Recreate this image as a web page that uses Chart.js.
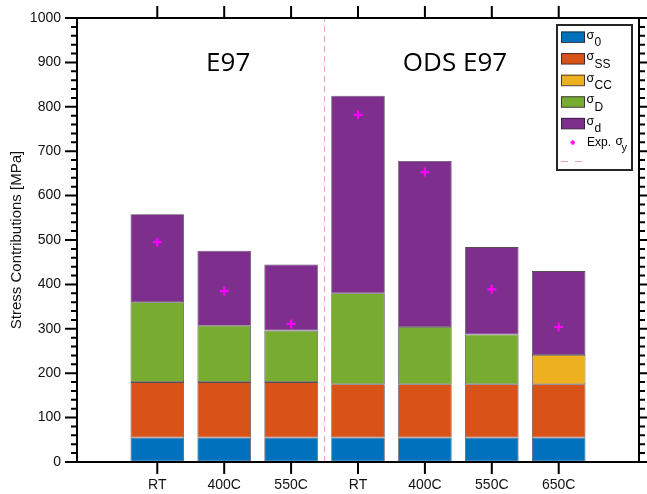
<!DOCTYPE html>
<html>
<head>
<meta charset="utf-8">
<script src="https://cdn.jsdelivr.net/npm/chart.js@4/dist/chart.umd.min.js"></script>
<style>
  html, body { margin: 0; padding: 0; background: #ffffff; }
  #c { display: block; }
</style>
</head>
<body>
<canvas id="c" width="647" height="494"></canvas>
<script>
// ---- data ----
const categories = ['RT', '400C', '550C', 'RT', '400C', '550C', '650C'];
const sigma0  = [55, 55, 55, 55, 55, 55, 55];
const sigmaSS = [125, 125, 125, 120, 120, 120, 120];
const sigmaCC = [0, 0, 0, 0, 0, 0, 66];
const sigmaD  = [180, 127, 116, 205, 129, 112, 0];
const sigmad  = [198, 169, 149, 445, 374, 197, 189];
const expSigmaY = [495, 385, 311, 782, 653, 389, 304];
const yTickValues = [0, 100, 200, 300, 400, 500, 600, 700, 800, 900, 1000];
const groupLabels = ['E97', 'ODS E97'];
const groupLabelX = [2.06, 5.45];
const groupLabelY = 880;
const dividerX = 3.5;

const colors = {
  s0: '#0072BD', ss: '#D95319', cc: '#EDB120', D: '#77AC30', d: '#7E2F8E',
  exp: '#FF00FF', div: '#E8A0B4'
};
const FONT = "'Liberation Sans', Arial, Helvetica, sans-serif";

function pts(arr) { return arr.map((v, i) => ({ x: i + 1, y: v })); }

function barDs(label, arr, color, order) {
  return {
    type: 'bar', label, data: pts(arr), backgroundColor: color,
    borderColor: 'rgba(45,30,45,0.8)', borderWidth: 0.8, borderSkipped: false,
    barPercentage: 0.8, categoryPercentage: 1.0, order
  };
}

const datasets = [
  {
    type: 'line', label: 'Exp. σy', data: pts(expSigmaY), showLine: false,
    pointStyle: 'cross', pointRadius: 4.5, pointBorderWidth: 2.2,
    pointBorderColor: colors.exp, pointBackgroundColor: colors.exp,
    stack: 'exp', order: 0
  },
  barDs('σ0', sigma0, colors.s0, 1),
  barDs('σSS', sigmaSS, colors.ss, 2),
  barDs('σCC', sigmaCC, colors.cc, 3),
  barDs('σD', sigmaD, colors.D, 4),
  barDs('σd', sigmad, colors.d, 5),
  {
    type: 'line', label: '', data: [{ x: dividerX, y: 0 }, { x: dividerX, y: 1000 }],
    borderColor: colors.div, borderWidth: 1, borderDash: [6, 4], pointRadius: 0,
    stack: 'div', order: 6
  }
];

const deco = {
  id: 'deco',
  afterDraw(chart) {
    const ctx = chart.ctx, a = chart.chartArea;
    const xs = chart.scales.x, ys = chart.scales.y;
    ctx.save();
    // axes box
    ctx.strokeStyle = '#000';
    ctx.lineWidth = 2;
    ctx.setLineDash([]);
    ctx.strokeRect(a.left, a.top, a.right - a.left, a.bottom - a.top);
    // y ticks (major + minor) on left and right
    ctx.beginPath();
    for (let v = 0; v <= 1000; v += 20) {
      const y = ys.getPixelForValue(v);
      const len = (v % 100 === 0) ? 12 : 6;
      ctx.moveTo(a.left - len, y); ctx.lineTo(a.left, y);
      ctx.moveTo(a.right, y); ctx.lineTo(a.right + len, y);
    }
    // x ticks bottom and top
    categories.forEach((c, i) => {
      const x = xs.getPixelForValue(i + 1);
      ctx.moveTo(x, a.bottom); ctx.lineTo(x, a.bottom + 12);
      ctx.moveTo(x, a.top - 12); ctx.lineTo(x, a.top);
    });
    ctx.stroke();

    // y title
    ctx.fillStyle = '#111';
    ctx.font = '15px ' + FONT;
    ctx.save();
    ctx.translate(17, (a.top + a.bottom) / 2);
    ctx.rotate(-Math.PI / 2);
    ctx.textAlign = 'center';
    ctx.textBaseline = 'middle';
    ctx.fillText('Stress Contributions [MPa]', 0, 0);
    ctx.restore();

    // group labels
    ctx.font = "26px 'Open Sans', 'Liberation Sans', sans-serif";
    ctx.textAlign = 'center';
    ctx.textBaseline = 'alphabetic';
    ctx.fillStyle = '#000';
    groupLabels.forEach((t, i) => {
      ctx.fillText(t, xs.getPixelForValue(groupLabelX[i]), ys.getPixelForValue(groupLabelY));
    });

    // legend
    const L = 557, T = 25, R = 632, B = 170;
    ctx.fillStyle = '#fff';
    ctx.fillRect(L, T, R - L, B - T);
    ctx.strokeStyle = '#262626';
    ctx.lineWidth = 2;
    ctx.strokeRect(L, T, R - L, B - T);
    const entries = [
      { c: colors.s0, sub: '0' }, { c: colors.ss, sub: 'SS' }, { c: colors.cc, sub: 'CC' },
      { c: colors.D, sub: 'D' }, { c: colors.d, sub: 'd' }
    ];
    ctx.textAlign = 'left';
    entries.forEach((e, i) => {
      const cy = 37 + i * 21.6;
      ctx.fillStyle = e.c;
      ctx.fillRect(561, cy - 5.5, 24, 11);
      ctx.strokeStyle = 'rgba(45,30,45,0.8)';
      ctx.lineWidth = 1;
      ctx.strokeRect(561.5, cy - 5, 23, 10.5);
      ctx.fillStyle = '#000';
      ctx.font = '12.5px ' + FONT;
      ctx.fillText('σ', 586.5, cy + 1.5);
      ctx.font = '12px ' + FONT;
      ctx.fillText(e.sub, 594.5, cy + 9);
    });
    // Exp marker entry
    const ey = 142.5;
    ctx.strokeStyle = colors.exp;
    ctx.lineWidth = 2;
    ctx.beginPath();
    ctx.moveTo(570.5, ey); ctx.lineTo(575, ey);
    ctx.moveTo(572.7, ey - 2.2); ctx.lineTo(572.7, ey + 2.2);
    ctx.stroke();
    ctx.fillStyle = '#000';
    ctx.font = '12px ' + FONT;
    ctx.fillText('Exp.', 587, 146);
    ctx.font = '12px ' + FONT;
    ctx.fillText('σ', 615.5, 145);
    ctx.font = '11px ' + FONT;
    ctx.fillText('y', 621.5, 151);
    // divider entry
    ctx.strokeStyle = colors.div;
    ctx.lineWidth = 1;
    ctx.setLineDash([7, 7]);
    ctx.beginPath();
    ctx.moveTo(561, 161.5); ctx.lineTo(583, 161.5);
    ctx.stroke();
    ctx.restore();
  }
};

new Chart(document.getElementById('c'), {
  type: 'bar',
  data: { datasets },
  plugins: [deco],
  options: {
    responsive: false,
    devicePixelRatio: 1,
    animation: false,
    layout: { padding: { left: 0, top: 18, right: 8, bottom: 0 } },
    plugins: { legend: { display: false }, title: { display: false }, tooltip: { enabled: false } },
    scales: {
      x: {
        type: 'linear', min: -0.2, max: 8.2, stacked: true, offset: false,
        grid: { display: true, drawOnChartArea: false, drawTicks: true, tickLength: 12, color: 'rgba(0,0,0,0)', offset: false },
        border: { display: false },
        afterBuildTicks: (s) => { s.ticks = categories.map((c, i) => ({ value: i + 1 })); },
        ticks: {
          autoSkip: false, maxRotation: 0, padding: 3,
          font: { family: FONT, size: 14 }, color: '#111',
          callback: (v, i) => categories[i]
        },
        afterFit: (s) => { s.height = 32; }
      },
      y: {
        type: 'linear', min: 0, max: 1000, stacked: true,
        grid: { display: true, drawOnChartArea: false, drawTicks: true, tickLength: 12, color: 'rgba(0,0,0,0)' },
        border: { display: false },
        afterBuildTicks: (s) => { s.ticks = yTickValues.map(v => ({ value: v })); },
        ticks: { padding: 4, font: { family: FONT, size: 14 }, color: '#111', callback: (v) => String(v) },
        afterFit: (s) => { s.width = 77; }
      }
    }
  }
});
</script>
</body>
</html>
